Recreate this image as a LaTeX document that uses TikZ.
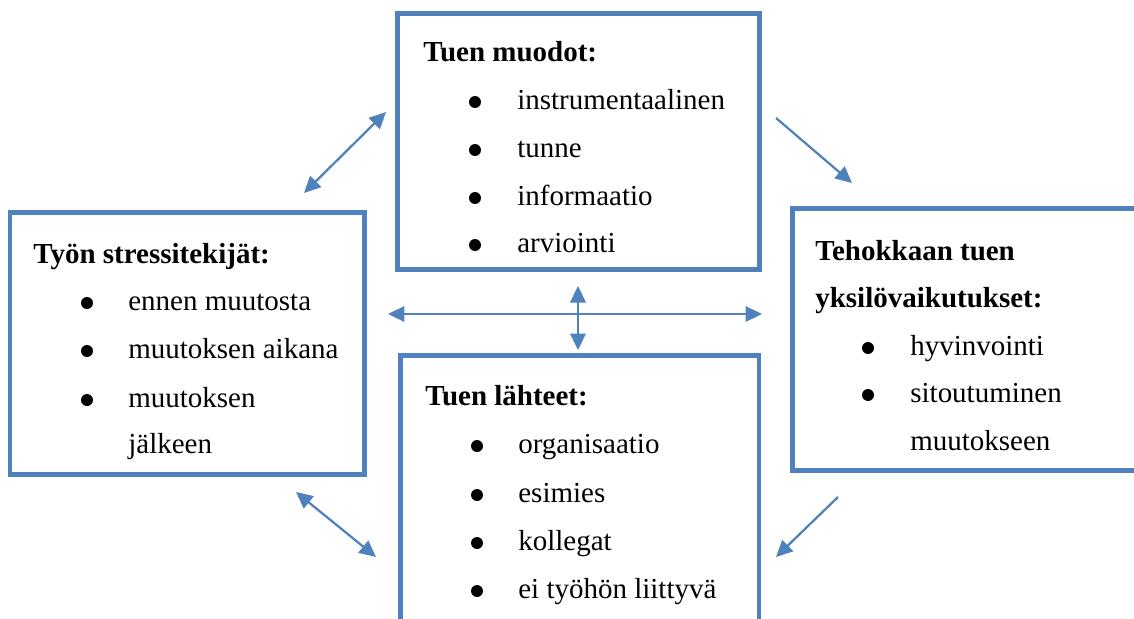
\documentclass[tikz,border=0pt]{standalone}
\usepackage{fontspec}
\setmainfont{Liberation Serif}
\usetikzlibrary{arrows.meta,fit}
\definecolor{boxblue}{HTML}{4F81BD}
\begin{document}
\begin{tikzpicture}[x=0.02cm,y=-0.02cm,
  box/.style={draw=boxblue,line width=0.09cm,inner sep=0pt,rectangle},
  txt/.style={anchor=base west,inner sep=0pt,font=\fontsize{16.5}{20}\selectfont},
  hd/.style={anchor=base west,inner sep=0pt,font=\fontsize{16.5}{20}\selectfont\bfseries},
  bul/.style={circle,fill=black,inner sep=0pt,minimum size=0.24cm},
  tip/.tip={Triangle[length=0.33cm,width=0.31cm]},
  link/.style={draw=boxblue,line width=0.045cm,-tip},
  dlink/.style={draw=boxblue,line width=0.045cm,tip-tip}]
\useasboundingbox (0,0) rectangle (1134,619);
\clip (0,0) rectangle (1134,619);

% box corners
\coordinate (tl1) at (397.5,13.5);  \coordinate (tl2) at (759.5,269.5);
\coordinate (ll1) at (10,212.5);    \coordinate (ll2) at (364.5,474.5);
\coordinate (rl1) at (792.5,208.5); \coordinate (rl2) at (1160,470.5);
\coordinate (bl1) at (400.5,355.5); \coordinate (bl2) at (759,650);

\node[box,fit=(tl1)(tl2)] (top) {};
\node[box,fit=(ll1)(ll2)] (left) {};
\node[box,fit=(rl1)(rl2)] (right) {};
\node[box,fit=(bl1)(bl2)] (bottom) {};

% top box text
\node[hd] (th) at (423,61.5) {Tuen muodot:};
\node[bul] (tb1) at (475,102) {}; \node[txt] (tt1) at (517,109) {instrumentaalinen};
\node[bul] (tb2) at (475,150) {}; \node[txt] (tt2) at (517,157) {tunne};
\node[bul] (tb3) at (475,198) {}; \node[txt] (tt3) at (517,205) {informaatio};
\node[bul] (tb4) at (475,245) {}; \node[txt] (tt4) at (517,252) {arviointi};

% left box text
\node[hd] (lh) at (33,263) {Työn stressitekijät:};
\node[bul] (lb1) at (87,303) {}; \node[txt] (lt1) at (128,310) {ennen muutosta};
\node[bul] (lb2) at (87,351) {}; \node[txt] (lt2) at (128,358) {muutoksen aikana};
\node[bul] (lb3) at (87,400) {}; \node[txt] (lt3) at (128,407) {muutoksen};
\node[txt] (lt4) at (128,453) {jälkeen};

% right box text
\node[hd] (rh1) at (815,260) {Tehokkaan tuen};
\node[hd] (rh2) at (815,307) {yksilövaikutukset:};
\node[bul] (rb1) at (868,348) {}; \node[txt] (rt1) at (910,355) {hyvinvointi};
\node[bul] (rb2) at (868,395) {}; \node[txt] (rt2) at (910,402) {sitoutuminen};
\node[txt] (rt3) at (910,450) {muutokseen};

% bottom box text
\node[hd] (bh) at (425,405) {Tuen lähteet:};
\node[bul] (bb1) at (477,446) {}; \node[txt] (bt1) at (518,453) {organisaatio};
\node[bul] (bb2) at (477,495) {}; \node[txt] (bt2) at (518,502) {esimies};
\node[bul] (bb3) at (477,543) {}; \node[txt] (bt3) at (518,550) {kollegat};
\node[bul] (bb4) at (477,591) {}; \node[txt] (bt4) at (518,598) {ei työhön liittyvä};

% arrow end points
\coordinate (a1) at (304,193); \coordinate (a2) at (386,112);
\coordinate (b1) at (776,118); \coordinate (b2) at (852,183);
\coordinate (h1) at (388,314); \coordinate (h2) at (762,314);
\coordinate (v1) at (578,286); \coordinate (v2) at (578,350);
\coordinate (c1) at (296,492); \coordinate (c2) at (376,557);
\coordinate (d1) at (838,497); \coordinate (d2) at (776,557);

\draw[dlink] (a1) -- (a2);
\draw[link] (b1) -- (b2);
\draw[dlink] (h1) -- (h2);
\draw[dlink] (v1) -- (v2);
\draw[dlink] (c1) -- (c2);
\draw[link] (d1) -- (d2);
\end{tikzpicture}
\end{document}
